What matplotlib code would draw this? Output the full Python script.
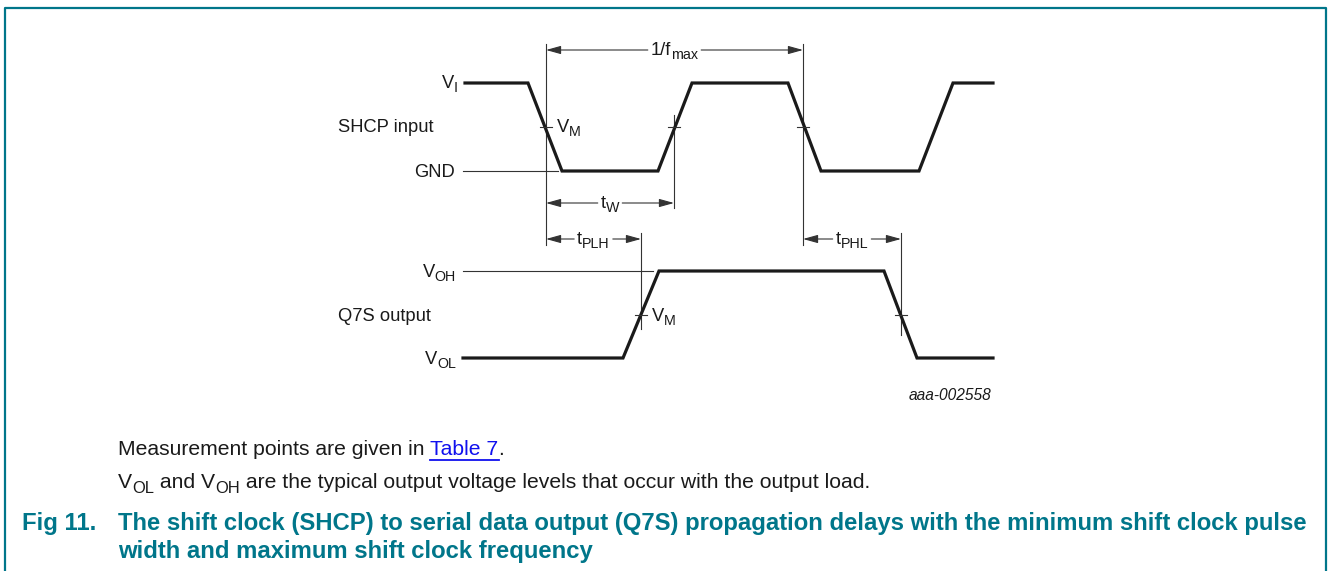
import matplotlib
matplotlib.use("Agg")
import matplotlib.pyplot as plt

plt.rcParams['font.family'] = ['Liberation Sans', 'DejaVu Sans']

# waveform vertices (pixel coords of the original drawing)
shcp_x = [465, 528, 562, 658, 692, 788, 821, 919, 953, 993]
shcp_y = [83, 83, 171, 171, 83, 83, 171, 171, 83, 83]
q7s_x = [463, 623, 659, 884, 917, 993]
q7s_y = [358, 358, 271, 271, 358, 358]

# levels
vi_y, gnd_y, vm_in_y = 83, 171, 127
voh_y, vol_y, vm_out_y = 271, 358, 315

# V_M crossing points
vm_in_x = [546, 674, 803]
vm_out_x = [641, 901]

# timing markers: (label parts, x0, x1, y)
timings = [
    ([("1/f", False), ("max", True)], 546, 803, 50),
    ([("t", False), ("W", True)], 546, 674, 203),
    ([("t", False), ("PLH", True)], 546, 641, 239),
    ([("t", False), ("PHL", True)], 803, 901, 239),
]
# vertical reference lines: (x, ytop, ybottom)
vlines = [(546, 44, 245), (674, 115, 208), (803, 44, 245), (641, 233, 329), (901, 233, 335)]

teal = '#00768a'
ink = '#1a1a1a'
thin = '#333333'

fig = plt.figure(figsize=(13.28, 5.71), dpi=100)
ax = fig.add_axes([0, 0, 1, 1])
ax.set_xlim(0, 1328)
ax.set_ylim(571, 0)
ax.axis('off')
rend = fig.canvas.get_renderer()


def rich(x, y, parts, ha='left', size=13.2, color=ink, **kw):
    """Draw text with real-size subscripts, return (left, right) in px."""
    arts = []
    for s, sub in parts:
        fsz = size * 0.78 if sub else size
        arts.append(ax.text(0, 0, s, fontsize=fsz, va='baseline', ha='left', color=color, **kw))
    widths = [a.get_window_extent(rend).width for a in arts]
    total = sum(widths)
    if ha == 'right':
        x0 = x - total
    elif ha == 'center':
        x0 = x - total / 2
    else:
        x0 = x
    left = x0
    for a, w, (s, sub) in zip(arts, widths, parts):
        a.set_position((x0, y + (size * 0.33 if sub else 0)))
        x0 += w
    return left, x0


# frame
ax.plot([5, 5, 1326, 1326], [571, 8, 8, 571], color=teal, lw=1.6, solid_capstyle='butt')

# thin level lines
ax.plot([463, 558], [gnd_y, gnd_y], color=thin, lw=0.8)
ax.plot([463, 653], [voh_y, voh_y], color=thin, lw=0.8)

for x, y0, y1 in vlines:
    ax.plot([x, x], [y0, y1], color=thin, lw=0.8)

# waveforms
ax.plot(shcp_x, shcp_y, color=ink, lw=2.3, solid_joinstyle='miter')
ax.plot(q7s_x, q7s_y, color=ink, lw=2.3, solid_joinstyle='miter')

# V_M ticks
for x in vm_in_x:
    ax.plot([x - 6, x + 6], [vm_in_y, vm_in_y], color=thin, lw=0.8)
for x in vm_out_x:
    ax.plot([x - 6, x + 6], [vm_out_y, vm_out_y], color=thin, lw=0.8)

# timing arrows with label in the middle
ap = dict(arrowstyle='-|>,head_length=0.9,head_width=0.25', lw=0.8, color=thin,
          shrinkA=0, shrinkB=0)
for parts, x0, x1, y in timings:
    lx, rx = rich((x0 + x1) / 2, y + 5, parts, ha='center')
    ax.annotate("", xy=(x0, y), xytext=(lx - 3, y), arrowprops=ap)
    ax.annotate("", xy=(x1, y), xytext=(rx + 3, y), arrowprops=ap)

# labels
rich(458, vi_y + 5, [("V", False), ("I", True)], ha='right')
rich(338, vm_in_y + 5, [("SHCP input", False)])
rich(455, gnd_y + 6, [("GND", False)], ha='right')
rich(557, vm_in_y + 5, [("V", False), ("M", True)])
rich(456, voh_y + 6, [("V", False), ("OH", True)], ha='right')
rich(338, vm_out_y + 6, [("Q7S output", False)])
rich(456, vol_y + 6, [("V", False), ("OL", True)], ha='right')
rich(652, vm_out_y + 6, [("V", False), ("M", True)])
ax.text(991, 400, "aaa-002558", ha='right', va='baseline', fontsize=11.2, style='italic', color=ink)

# notes
nfs = 15.2
_, tx = rich(118, 455, [("Measurement points are given in ", False)], size=nfs)
_, tx2 = rich(tx, 455, [("Table 7", False)], size=nfs, color='#1010ee')
ax.plot([tx, tx2], [459.5, 459.5], color='#1010ee', lw=1.3)
rich(tx2, 455, [(".", False)], size=nfs)
rich(118, 488, [("V", False), ("OL", True), (" and V", False), ("OH", True),
                (" are the typical output voltage levels that occur with the output load.", False)], size=nfs)

# caption
cfs = 17.2
ax.text(22, 530, "Fig 11.", ha='left', va='baseline', fontsize=cfs, weight='bold', color=teal)
ax.text(118, 530, "The shift clock (SHCP) to serial data output (Q7S) propagation delays with the minimum shift clock pulse",
        ha='left', va='baseline', fontsize=cfs, weight='bold', color=teal)
ax.text(118, 558, "width and maximum shift clock frequency", ha='left', va='baseline', fontsize=cfs, weight='bold', color=teal)

fig.savefig("out.png", dpi=100)
